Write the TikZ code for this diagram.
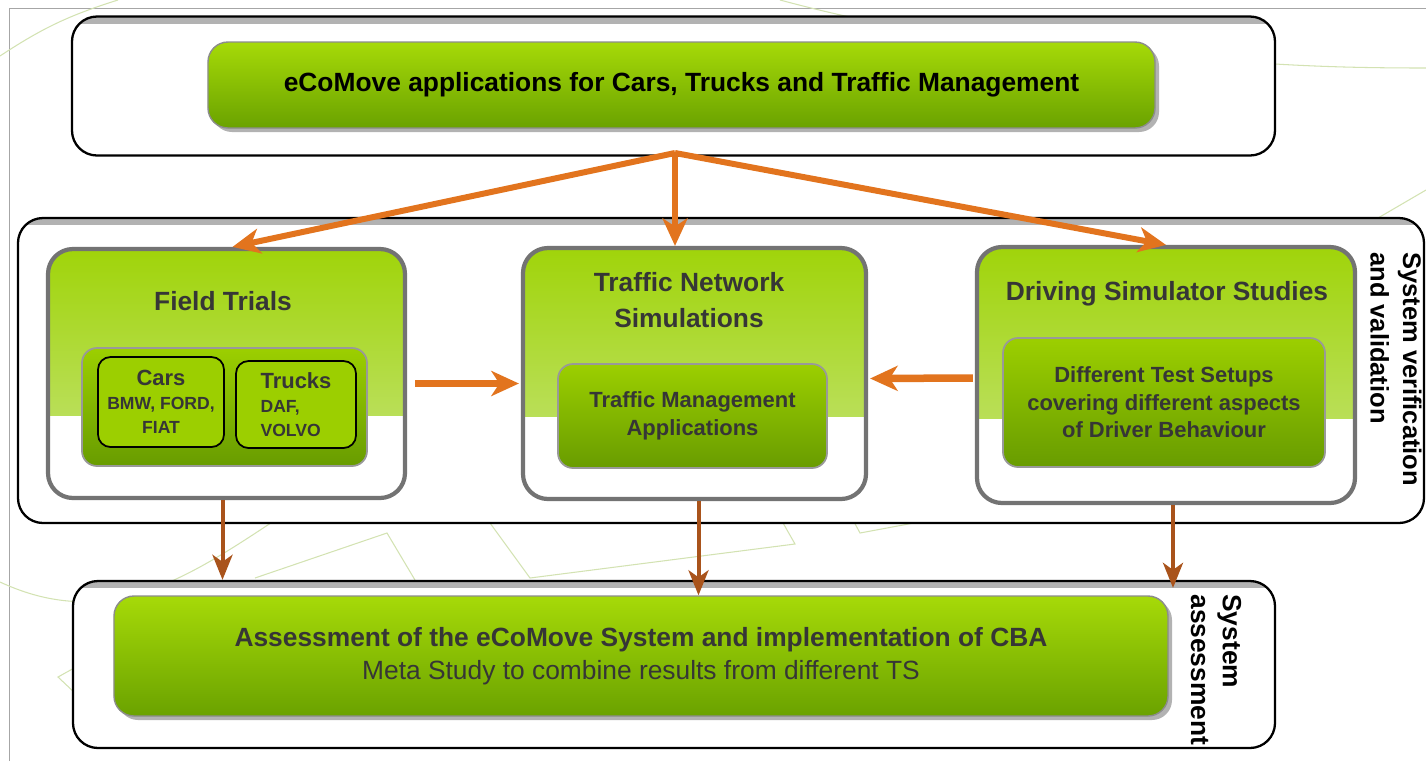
\documentclass[tikz,border=0pt]{standalone}
\usepackage{fontspec}
\setmainfont{Liberation Sans}
\usetikzlibrary{arrows.meta}
\usetikzlibrary{calc,shadows}

\definecolor{barlight}{HTML}{A6DA08}
\definecolor{bardark}{HTML}{6AA200}
\definecolor{panlight}{HTML}{A0D40A}
\definecolor{panpale}{HTML}{C6E47E}
\definecolor{boxlight}{HTML}{9CCF00}
\definecolor{boxdark}{HTML}{689C00}
\definecolor{flowor}{HTML}{E2741E}
\definecolor{flowbr}{HTML}{A9531B}
\definecolor{inkgray}{HTML}{363636}
\definecolor{deco}{HTML}{D3E2B2}

\begin{document}
\begin{tikzpicture}[x=0.2mm,y=-0.2mm]
  \tikzset{frame/.style = {draw,line width=1.3pt,fill=white,rounded corners=5mm,
      path picture={\fill[black!30,sharp corners] (path picture bounding box.north west)
        rectangle ([yshift=-1.4mm]path picture bounding box.north east);}}}
  \tikzset{bar/.style = {draw=black!45,line width=0.8pt,rounded corners=4mm,
      top color=barlight,bottom color=bardark,
      drop shadow={shadow xshift=0.8mm,shadow yshift=-0.8mm,fill=black!60,opacity=0.5}}}
  \tikzset{panel/.style = {draw=black!55,line width=2.4pt,fill=white,rounded corners=5mm,
      path picture={\shade[top color=panlight,bottom color=panpale,sharp corners]
        (path picture bounding box.north west) rectangle
        ($(path picture bounding box.north east)!0.67!(path picture bounding box.south east)$);}}}
  \tikzset{inbox/.style = {draw=black!40,line width=1pt,rounded corners=3mm,
      top color=boxlight,bottom color=boxdark,text=inkgray,align=center,
      font=\bfseries\fontsize{12.5}{15.6}\selectfont}}
  \tikzset{maker/.style = {draw,line width=1pt,rounded corners=2.5mm,fill=boxlight,
      text=inkgray,font=\bfseries\fontsize{10}{13.5}\selectfont}}
  \tikzset{ptitle/.style = {text=inkgray,align=center,font=\bfseries\fontsize{15}{20}\selectfont}}
  \tikzset{side/.style = {rotate=-90,anchor=west,align=left,inner sep=0pt,
      font=\bfseries\fontsize{14.5}{18.5}\selectfont}}
  \tikzset{flow/.style = {draw=flowor,line width=1.2mm,-{Stealth[length=5.5mm,width=5mm,inset=1.6mm]}}}
  \tikzset{feed/.style = {draw=flowbr,line width=0.8mm,-{Stealth[length=5mm,width=4mm,inset=1.4mm]}}}

  \useasboundingbox (0,0) rectangle (1426,761);
  \draw[black!35,line width=0.5pt] (9,761) -- (9,8) -- (1426,8);

  % faint background lines
  \begin{scope}[deco,line width=0.6pt]
    \draw (0,56) to[bend left=8] (118,0);
    \draw (780,0) to[out=-15,in=175] (1158,55) to[out=-5,in=180] (1426,68);
    \draw (1330,246) -- (1426,190);
    \draw (0,582) to[out=-25,in=190] (480,423);
    \draw (482,512) -- (762,486) -- (795,544) -- (530,578) -- cycle;
    \draw (1000,455) -- (831,479) -- (860,533) -- (1000,507);
    \draw (255,578) -- (387,533) -- (415,580);
    \draw (110,648) -- (58,677) -- (130,745);
  \end{scope}

  % applications
  \node[frame,minimum width=240.6mm,minimum height=27.8mm] (apps) at (673.5,86) {};
  \node[bar,minimum width=189.4mm,minimum height=17.2mm,
        font=\bfseries\fontsize{15}{18}\selectfont] (appbar) at (681.5,85)
        {eCoMove applications for Cars, Trucks and Traffic Management};

  % verification and validation
  \node[frame,minimum width=281.2mm,minimum height=61mm] (val) at (721,370.5) {};
  \node[side] (valL) at (1396,252) {System verification\\and validation};

  \node[panel,minimum width=71.4mm,minimum height=49.8mm] (ft) at (226.5,373.5) {};
  \node[ptitle] (ftT) at (223,301) {Field Trials};
  \node[inbox,minimum width=57mm,minimum height=23.6mm] (ftin) at (224.5,407) {};
  \node[maker,minimum width=25.2mm,minimum height=18mm,align=center] (cars) at (161,402)
        {{\fontsize{12.5}{15}\selectfont Cars}\\BMW, FORD,\\FIAT};
  \node[maker,minimum width=24mm,minimum height=17.4mm,align=left] (trucks) at (296,404.5)
        {{\fontsize{12.5}{15}\selectfont Trucks}\\DAF,\\VOLVO};

  \node[panel,minimum width=68.6mm,minimum height=50.2mm] (tns) at (694.5,373.5) {};
  \node[ptitle] (tnsT) at (689,300) {Traffic Network\\Simulations};
  \node[inbox,minimum width=53.8mm,minimum height=20.8mm] (tnsin) at (692.5,416)
        {Traffic Management\\Applications};

  \node[panel,minimum width=75.6mm,minimum height=51.2mm] (dss) at (1166,375) {};
  \node[ptitle] (dssT) at (1167,294) {Driving Simulator Studies};
  \node[inbox,minimum width=64.4mm,minimum height=25.8mm] (dssin) at (1164,402.5)
        {Different Test Setups\\covering different aspects\\of Driver Behaviour};

  % assessment
  \node[frame,minimum width=240.4mm,minimum height=33.4mm] (sab) at (674,664.5) {};
  \node[side,font=\bfseries\fontsize{15}{18}\selectfont] (sabL) at (1216,594) {System\\assessment};
  \node[bar,minimum width=210.8mm,minimum height=24mm,text=inkgray,align=center,
        font=\fontsize{15}{19}\selectfont] (asm) at (641,656)
        {{\bfseries Assessment of the eCoMove System and implementation of CBA}\\
         Meta Study to combine results from different TS};

  % arrows
  \coordinate (split) at (675,153);
  \coordinate (ftTip) at ($(ft.north)+(6,0)$);
  \coordinate (tnsTip) at (split |- tns.north);
  \foreach \to in {ftTip, tnsTip, dss.north}
    \draw[flow] (split) -- (\to);

  \draw[flow,line width=1.5mm] ($(ft.east)+(8,10)$) -- ($(tns.west)+(-2,10)$);
  \draw[flow,line width=1.5mm] ($(dss.west)+(-2,3)$) -- ($(tns.east)+(2,5)$);

  \coordinate (d1) at ($(ft.south)+(-4,0)$);
  \coordinate (d2) at ($(tns.south)+(4,0)$);
  \coordinate (d3) at ($(dss.south)+(7,0)$);
  \coordinate (e1) at (d1 |- sab.north);
  \coordinate (e2) at (d2 |- asm.north);
  \coordinate (e3) at ($(d3 |- sab.north)+(0,8)$);
  \foreach \from/\to in {d1/e1, d2/e2, d3/e3}
    \draw[feed] (\from) -- (\to);
\end{tikzpicture}
\end{document}
